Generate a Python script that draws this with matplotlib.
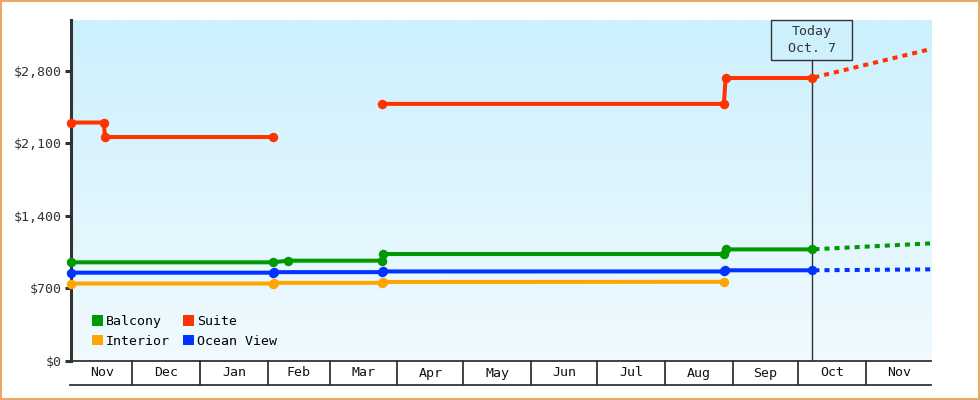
import numpy as np
import pandas as pd
import matplotlib
matplotlib.use('Agg')
import matplotlib.pyplot as plt
from matplotlib.colors import LinearSegmentedColormap
from matplotlib.patches import Rectangle, Patch
from matplotlib.transforms import blended_transform_factory

# price history (one point per fare change, NaN = no offer)
balcony_dates = ['2022-11-03', '2023-02-03', '2023-02-10', '2023-03-25', '2023-03-25T12:00',
                 '2023-08-28', '2023-08-28T18:00', '2023-10-07']
balcony_prices = [950, 950, 966, 966, 1030, 1030, 1075, 1075]

interior_dates = ['2022-11-03', '2023-02-03', '2023-02-03T12:00', '2023-03-25', '2023-03-25T12:00',
                  '2023-08-28']
interior_prices = [745, 745, 752, 752, 760, 762]

ocean_dates = ['2022-11-03', '2023-02-03', '2023-02-03T12:00', '2023-03-25', '2023-03-25T12:00',
               '2023-08-28', '2023-08-28T12:00', '2023-10-07']
ocean_prices = [850, 850, 855, 855, 862, 862, 873, 873]

suite_dates = ['2022-11-03', '2022-11-18', '2022-11-18T12:00', '2023-02-03', '2023-03-01',
               '2023-03-25', '2023-08-28', '2023-08-28T18:00', '2023-10-07']
suite_prices = [2300, 2300, 2160, 2160, np.nan, 2480, 2480, 2730, 2730]

# forecast from today to end of range
forecast_dates = ['2023-10-07', '2023-11-30T12:00']
balcony_fc = [1075, 1133]
ocean_fc = [873, 882]
suite_fc = [2730, 3010]

today = '2023-10-07'
today_label = 'Today\nOct. 7'
x_start, x_end = '2022-11-03', '2023-11-30T12:00'
y_max = 3290
y_ticks = [0, 700, 1400, 2100, 2800]
month_starts = pd.date_range('2022-12-01', '2023-11-01', freq='MS')
month_labels = ['Nov', 'Dec', 'Jan', 'Feb', 'Mar', 'Apr', 'May', 'Jun', 'Jul', 'Aug',
                'Sep', 'Oct', 'Nov']

colors = {'Balcony': '#009900', 'Suite': '#ff3300', 'Interior': '#ffa500', 'Ocean View': '#0033ff'}
ink = '#333333'
mono = 'DejaVu Sans Mono'


def dt(lst):
    return pd.to_datetime(lst, format='ISO8601')


fig = plt.figure(figsize=(9.8, 4.0), dpi=100)
ax = fig.add_axes([71/980, 39.3/400, 860/980, 340.7/400])

# gradient background
grad = LinearSegmentedColormap.from_list('bg', ['#f0faff', '#ccf0fd'])
ax.imshow(np.linspace(0, 1, 256).reshape(-1, 1), cmap=grad, origin='lower', aspect='auto',
          extent=[0, 1, 0, 1], transform=ax.transAxes, zorder=0)

x0, x1 = pd.Timestamp(x_start), pd.Timestamp(x_end)
ax.set_xlim(x0, x1)
ax.set_ylim(0, y_max)

lw = 2.9
ms = 6.8
series = [('Balcony', balcony_dates, balcony_prices),
          ('Interior', interior_dates, interior_prices),
          ('Ocean View', ocean_dates, ocean_prices),
          ('Suite', suite_dates, suite_prices)]
for name, d, p in series:
    ax.plot(dt(d), p, color=colors[name], lw=lw, marker='o', ms=ms,
            markeredgewidth=0, solid_capstyle='butt', zorder=4, clip_on=False)

for name, p in [('Balcony', balcony_fc), ('Ocean View', ocean_fc), ('Suite', suite_fc)]:
    ax.plot(dt(forecast_dates), p, color=colors[name], lw=lw,
            linestyle=(1.8, (1.25, 1.25)), zorder=3)

# today marker
t = pd.Timestamp(today)
box_bottom = 1 - 40.4/340.7
ax.axvline(t, ymin=0, ymax=box_bottom, color=ink, lw=1.0, zorder=2)
half = pd.Timedelta(days=18.35)
btr = blended_transform_factory(ax.transData, ax.transAxes)
ax.add_patch(Rectangle((t - half, box_bottom), 2*half, 1 - box_bottom, transform=btr,
                       facecolor='none', edgecolor=ink, lw=1.0, zorder=5, clip_on=False))
ax.text(t, (1 + box_bottom)/2, today_label, transform=btr, ha='center', va='center',
        family=mono, fontsize=9.5, color=ink, linespacing=1.35, zorder=6)

# axes styling
for s in ['top', 'right']:
    ax.spines[s].set_visible(False)
ax.spines['left'].set_linewidth(2.2)
ax.spines['left'].set_color(ink)
ax.spines['bottom'].set_linewidth(1.3)
ax.spines['bottom'].set_color(ink)
ax.set_yticks(y_ticks)
ax.set_yticklabels(['${:,}'.format(v) for v in y_ticks], family=mono, fontsize=9.5, color=ink)
ax.tick_params(axis='y', length=4.5, width=2.2, color=ink, pad=2)
ax.set_xticks([])

# month band under the axis
band = -24.6/340.7
for m in month_starts:
    ax.plot([m, m], [0, band], transform=btr, color=ink, lw=1.3, clip_on=False)
ax.plot([x0 - pd.Timedelta(days=0.5), x1], [band, band], transform=btr, color=ink, lw=1.3,
        clip_on=False)
edges = [x0] + list(month_starts) + [x1]
for lbl, a, b in zip(month_labels, edges[:-1], edges[1:]):
    ax.text(a + (b - a)/2, band/2, lbl, transform=btr, ha='center', va='center',
            family=mono, fontsize=9.5, color='#111111')

# legend
order = ['Balcony', 'Interior', 'Suite', 'Ocean View']
handles = [Patch(facecolor=colors[n], edgecolor='none', label=n) for n in order]
ax.legend(handles=handles, ncol=2, loc='lower left', bbox_to_anchor=(21/860, 13/340.7),
          frameon=False, prop={'family': mono, 'size': 9.5}, handlelength=0.85,
          handleheight=0.85, handletextpad=0.2, columnspacing=1.0, labelspacing=0.5,
          borderpad=0, borderaxespad=0)

# outer border
fig.patches.append(Rectangle((0.001, 0.002), 0.998, 0.996, transform=fig.transFigure,
                             facecolor='none', edgecolor='#eba865', lw=1.5))

fig.savefig('out.png', dpi=100, facecolor='white')
